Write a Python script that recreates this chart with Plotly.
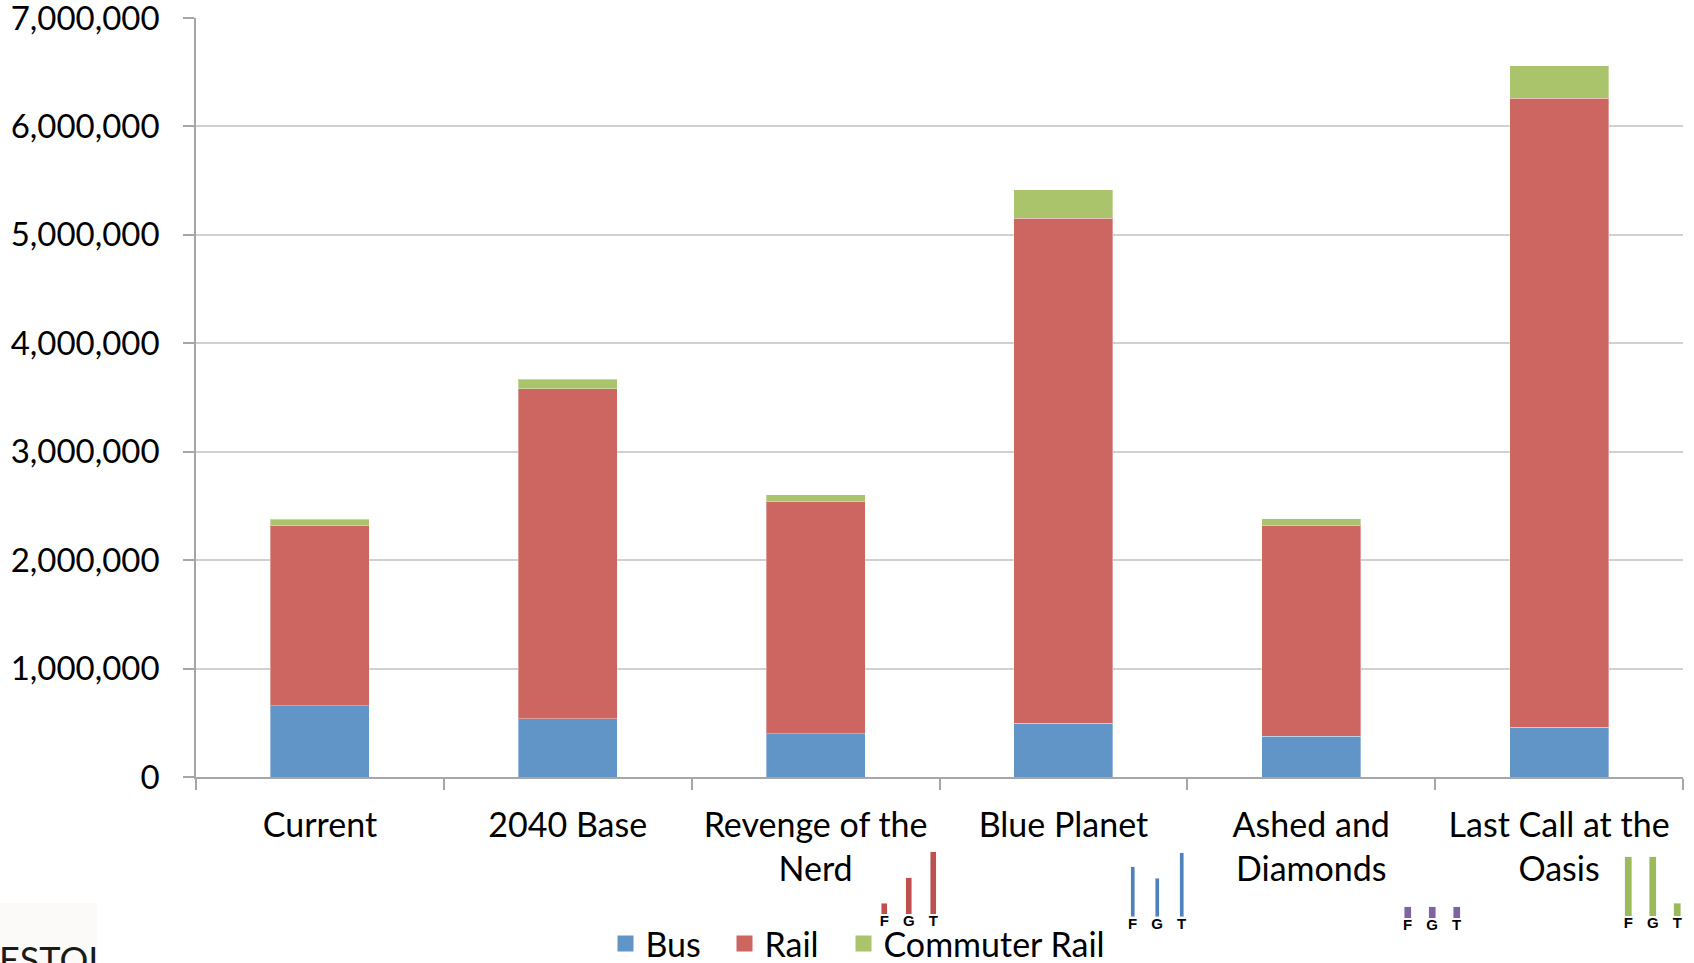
import plotly.graph_objects as go

# Daily transit trips by scenario, stacked by mode
scenarios = ["Current", "2040 Base", "Revenge of the<br>Nerd", "Blue Planet",
             "Ashed and<br>Diamonds", "Last Call at the<br>Oasis"]
bus = [655000, 537000, 398000, 497000, 378000, 458000]
rail = [1668000, 3045000, 2144000, 4658000, 1945000, 5804000]
commuter_rail = [56000, 86000, 60000, 259000, 60000, 299000]

y_ticks = [0, 1000000, 2000000, 3000000, 4000000, 5000000, 6000000, 7000000]

# Small F / G / T indicator charts shown under four scenarios
fgt_labels = ["F", "G", "T"]
fgt_revenge = [10.7, 36.3, 62.3]
fgt_blue = [50, 38.3, 64]
fgt_ashed = [11.7, 11.7, 11.7]
fgt_oasis = [59.3, 59.3, 12.7]

W, H = 1694, 963
ML, MT = 196, 18
PW, PH = W - ML, H - MT


def px_x(px):
    return (px - ML) / PW


def px_y(py):
    return (H - py) / PH


FONT = "Lato, 'Open Sans', sans-serif"
BLUE, RED, GREEN = "#6195C8", "#CD6660", "#AAC46C"
AXIS_GRAY = "#a6a6a6"

fig = go.Figure()

edge = dict(color="rgba(255,255,255,0.35)", width=1)
for name, vals, col in [("Bus", bus, BLUE), ("Rail", rail, RED),
                        ("Commuter Rail", commuter_rail, GREEN)]:
    fig.add_trace(go.Bar(x=scenarios, y=vals, name=name, width=0.4,
                         marker=dict(color=col, line=edge), showlegend=False))

# Legend entries with larger square swatches
for name, col, lw in [("Bus", BLUE, 74), ("Rail", RED, 74),
                      ("Commuter Rail", GREEN, 230)]:
    fig.add_trace(go.Scatter(x=[None], y=[None], mode="markers", name=name,
                             legendwidth=lw,
                             marker=dict(symbol="square", size=19, color=col)))

# Mini charts: (values, colour, bar width, bar centre of F, baseline px)
minis = [
    (fgt_revenge, "#C0504D", 0.23, 884.3, 914.0),
    (fgt_blue, "#4F81BD", 0.17, 1132.7, 916.7),
    (fgt_ashed, "#8064A2", 0.27, 1407.7, 918.3),
    (fgt_oasis, "#9BBB59", 0.27, 1628.3, 916.0),
]
step = 24.5
span = 70.0
for i, (vals, col, w, fx, base) in enumerate(minis, start=2):
    fig.add_trace(go.Bar(x=fgt_labels, y=vals, width=w, marker=dict(color=col),
                         xaxis=f"x{i}", yaxis=f"y{i}", showlegend=False))
    x0 = fx - step / 2
    x1 = fx + 2 * step + step / 2
    fig.layout[f"xaxis{i}"] = dict(
        domain=[px_x(x0), px_x(x1)], anchor=f"y{i}", type="category",
        showgrid=False, showline=False, zeroline=False, ticks="",
        tickfont=dict(family="'Liberation Sans Narrow', 'Liberation Sans', Arial, sans-serif",
                      size=15, color="#000000", weight="bold"),
        ticklabelstandoff=-4, fixedrange=True, automargin=False)
    fig.layout[f"yaxis{i}"] = dict(
        domain=[px_y(base), px_y(base - span)], anchor=f"x{i}",
        range=[0, span], visible=False, fixedrange=True, automargin=False)

fig.update_layout(
    width=W, height=H,
    margin=dict(l=ML, r=0, t=MT, b=0, autoexpand=False),
    paper_bgcolor="white", plot_bgcolor="white",
    barmode="stack",
    font=dict(family=FONT, size=32, color="#000000"),
    xaxis=dict(domain=[0, px_x(1683)], type="category", tickson="boundaries",
               ticks="outside", ticklen=11, tickwidth=1.5, tickcolor=AXIS_GRAY,
               showline=True, linecolor=AXIS_GRAY, linewidth=1.5,
               showgrid=False, tickfont=dict(family=FONT, size=34),
               ticklabelstandoff=17, automargin=False),
    yaxis=dict(domain=[px_y(777), 1], range=[0, 7000000], tickvals=y_ticks,
               tickformat=",d", ticks="outside", ticklen=11, tickwidth=1.5,
               tickcolor=AXIS_GRAY, showline=True, linecolor=AXIS_GRAY,
               linewidth=1.5, gridcolor="#d0d0d0", gridwidth=1.5,
               zeroline=False, tickfont=dict(family=FONT, size=33),
               ticklabelstandoff=17, ticklabeloverflow="allow",
               automargin=False),
    legend=dict(orientation="h", x=px_x(605.5), xanchor="left",
                y=px_y(944), yanchor="middle", traceorder="normal",
                entrywidthmode="pixels", font=dict(family=FONT, size=34),
                bgcolor="rgba(0,0,0,0)", borderwidth=0),
    showlegend=True,
)

# Fragment of a caption at the lower left corner
fig.add_shape(type="rect", xref="paper", yref="paper",
              x0=px_x(0), x1=px_x(97), y0=0, y1=px_y(903),
              fillcolor="#fbfaf8", line=dict(width=0), layer="below")
fig.add_annotation(text="ESTOI", xref="paper", yref="paper",
                   x=px_x(-3), y=px_y(935), xanchor="left", yanchor="top",
                   showarrow=False,
                   font=dict(family=FONT, size=36, color="#1a1a1a"))

fig.write_html("out.html")
